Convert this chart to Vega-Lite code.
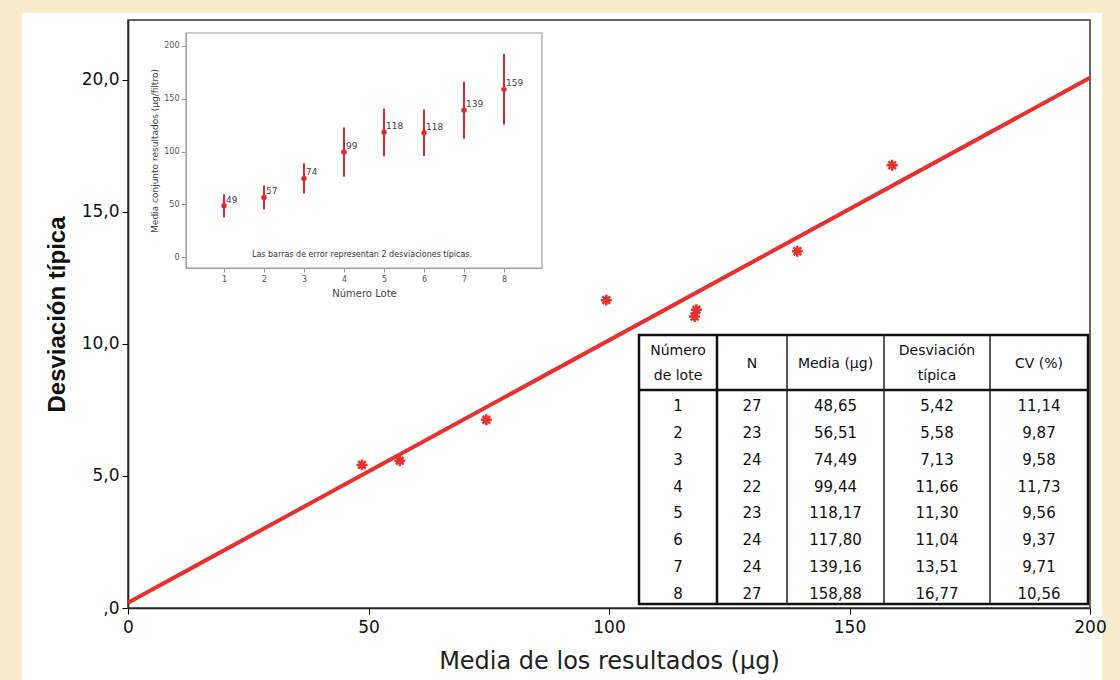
{
  "$schema": "https://vega.github.io/schema/vega-lite/v6.json",
  "width": 1080,
  "height": 667,
  "autosize": {"type": "none"},
  "padding": {"left": 22, "top": 13, "right": 18, "bottom": 0},
  "background": "#f8ecca",
  "config": {
    "view": {"fill": "white", "stroke": null},
    "axis": {"grid": false},
    "locale": {"number": {"decimal": ",", "thousands": ".", "grouping": [3], "currency": ["", " €"]}}
  },
  "datasets": {
    "lotes": [
      {"lote": 1, "n": 27, "media": 48.65, "sd": 5.42, "cv": 11.14, "lo": 37.81, "hi": 59.49},
      {"lote": 2, "n": 23, "media": 56.51, "sd": 5.58, "cv": 9.87, "lo": 45.35, "hi": 67.67},
      {"lote": 3, "n": 24, "media": 74.49, "sd": 7.13, "cv": 9.58, "lo": 60.23, "hi": 88.75},
      {"lote": 4, "n": 22, "media": 99.44, "sd": 11.66, "cv": 11.73, "lo": 76.12, "hi": 122.76},
      {"lote": 5, "n": 23, "media": 118.17, "sd": 11.30, "cv": 9.56, "lo": 95.57, "hi": 140.77},
      {"lote": 6, "n": 24, "media": 117.80, "sd": 11.04, "cv": 9.37, "lo": 95.72, "hi": 139.88},
      {"lote": 7, "n": 24, "media": 139.16, "sd": 13.51, "cv": 9.71, "lo": 112.14, "hi": 166.18},
      {"lote": 8, "n": 27, "media": 158.88, "sd": 16.77, "cv": 10.56, "lo": 125.34, "hi": 192.42}
    ],
    "ajuste": [{"media": 0, "sd": 0.2}, {"media": 200, "sd": 20.08}],
    "columnas": [
      {"col": 1, "titulo": "Número\nde lote"},
      {"col": 2, "titulo": "N"},
      {"col": 3, "titulo": "Media (µg)"},
      {"col": 4, "titulo": "Desviación\ntípica"},
      {"col": 5, "titulo": "CV (%)"}
    ],
    "separadores": [{"borde": 1.5}, {"borde": 2.5}, {"borde": 3.5}, {"borde": 4.5}]
  },
  "layer": [
    {
      "layer": [
        {
          "data": {"values": [{}]},
          "mark": {"type": "rect", "filled": false, "stroke": "#333333", "strokeWidth": 1.5},
          "encoding": {
            "x": {"datum": 0, "type": "quantitative",
              "scale": {"domain": [0, 200], "range": [106, 1068], "nice": false, "zero": false},
              "axis": {"orient": "bottom", "offset": -72, "values": [0, 50, 100, 150, 200], "format": "d",
                "labelFont": "DejaVu Sans", "labelFontSize": 17, "labelColor": "#111111", "labelPadding": 5,
                "labelFlush": false, "labelOverlap": false,
                "tickSize": 6, "tickColor": "#000000", "domainColor": "#000000", "domainWidth": 1.5,
                "title": "Media de los resultados (µg)", "titleFont": "DejaVu Sans", "titleFontSize": 24,
                "titleFontWeight": "normal", "titleColor": "#222222", "titlePadding": 14}},
            "x2": {"datum": 200},
            "y": {"datum": 0, "type": "quantitative",
              "scale": {"domain": [0, 22.27], "range": [595, 7], "nice": false, "zero": false},
              "axis": {"orient": "left", "offset": -106, "values": [0, 5, 10, 15, 20],
                "labelExpr": "datum.value === 0 ? ',0' : replace(format(datum.value, '.1f'), '.', ',')",
                "labelFont": "DejaVu Sans", "labelFontSize": 17, "labelColor": "#111111", "labelPadding": 3,
                "tickSize": 6, "tickColor": "#000000", "domainColor": "#000000", "domainWidth": 1.5,
                "title": "Desviación típica", "titleFont": "Liberation Sans", "titleFontSize": 24,
                "titleFontWeight": "bold", "titleColor": "#111111", "titlePadding": 12}},
            "y2": {"datum": 22.27}
          }
        },
        {
          "data": {"name": "ajuste"},
          "mark": {"type": "line", "color": "#e8302e", "strokeWidth": 4},
          "encoding": {
            "x": {"field": "media", "type": "quantitative"},
            "y": {"field": "sd", "type": "quantitative"}
          }
        },
        {
          "data": {"name": "lotes"},
          "mark": {"type": "point", "filled": false, "stroke": "#e8302e", "strokeWidth": 2.5, "opacity": 1, "size": 120,
            "shape": "M0,-1L0,1M-1,0L1,0M-0.7,-0.7L0.7,0.7M-0.7,0.7L0.7,-0.7"},
          "encoding": {
            "x": {"field": "media", "type": "quantitative"},
            "y": {"field": "sd", "type": "quantitative"}
          }
        }
      ]
    },
    {
      "layer": [
        {
          "data": {"values": [{}]},
          "mark": {"type": "rect", "fill": "white", "stroke": "#a0a0a0", "strokeWidth": 1.2},
          "encoding": {
            "x": {"datum": 0.05, "type": "quantitative",
              "scale": {"domain": [0.05, 8.95], "range": [164, 520], "nice": false, "zero": false},
              "axis": {"orient": "bottom", "offset": -412, "values": [1, 2, 3, 4, 5, 6, 7, 8], "format": "d",
                "labelFont": "DejaVu Sans", "labelFontSize": 8, "labelColor": "#555555", "labelPadding": 3,
                "labelFlush": false,
                "tickSize": 4, "tickColor": "#999999", "domainColor": "#a0a0a0", "zindex": 1,
                "title": "Número Lote", "titleFont": "DejaVu Sans", "titleFontSize": 10,
                "titleFontWeight": "normal", "titleColor": "#444444", "titlePadding": 5}},
            "x2": {"datum": 8.95},
            "y": {"datum": -10.4, "type": "quantitative",
              "scale": {"domain": [-10.4, 212.3], "range": [255, 20], "nice": false, "zero": false},
              "axis": {"orient": "left", "offset": -164, "values": [0, 50, 100, 150, 200], "format": "d",
                "labelFont": "DejaVu Sans", "labelFontSize": 8, "labelColor": "#555555", "labelPadding": 2,
                "tickSize": 5, "tickColor": "#999999", "domainColor": "#a0a0a0", "zindex": 1,
                "title": "Media conjunto resultados (µg/filtro)", "titleFont": "DejaVu Sans", "titleFontSize": 9,
                "titleFontWeight": "normal", "titleColor": "#444444", "titlePadding": 4}},
            "y2": {"datum": 212.3}
          }
        },
        {
          "data": {"name": "lotes"},
          "mark": {"type": "rule", "color": "#dd2a30", "strokeWidth": 2},
          "encoding": {
            "x": {"field": "lote", "type": "quantitative"},
            "y": {"field": "lo", "type": "quantitative"},
            "y2": {"field": "hi"}
          }
        },
        {
          "data": {"name": "lotes"},
          "mark": {"type": "circle", "color": "#dd2a30", "size": 30, "opacity": 1},
          "encoding": {
            "x": {"field": "lote", "type": "quantitative"},
            "y": {"field": "media", "type": "quantitative"}
          }
        },
        {
          "data": {"name": "lotes"},
          "mark": {"type": "text", "align": "left", "baseline": "bottom", "dx": 2, "dy": -1, "font": "DejaVu Sans", "fontSize": 9, "color": "#444444"},
          "encoding": {
            "x": {"field": "lote", "type": "quantitative"},
            "y": {"field": "media", "type": "quantitative"},
            "text": {"field": "media", "type": "quantitative", "format": ".0f"}
          }
        },
        {
          "data": {"values": [{}]},
          "mark": {"type": "text", "align": "center", "baseline": "middle", "font": "DejaVu Sans", "fontSize": 8, "color": "#333333"},
          "encoding": {
            "x": {"datum": 4.45, "type": "quantitative"},
            "y": {"datum": 2, "type": "quantitative"},
            "text": {"value": "Las barras de error representan 2 desviaciones típicas."}
          }
        }
      ]
    },
    {
      "layer": [
        {
          "data": {"values": [{}]},
          "mark": {"type": "rect", "fill": "white", "stroke": "#111111", "strokeWidth": 2.5},
          "encoding": {
            "x": {"datum": 0.5, "type": "quantitative",
              "scale": {"domain": [0.5, 1.5, 2.5, 3.5, 4.5, 5.5], "range": [617, 695, 765, 862, 968, 1066], "nice": false, "zero": false},
              "axis": null},
            "x2": {"datum": 5.5},
            "y": {"datum": -0.5, "type": "quantitative",
              "scale": {"domain": [-0.5, 0.5, 8.5], "range": [322, 377, 591], "nice": false, "zero": false},
              "axis": null},
            "y2": {"datum": 8.5}
          }
        },
        {
          "data": {"values": [{}]},
          "mark": {"type": "rule", "color": "#111111", "strokeWidth": 2.5},
          "encoding": {
            "x": {"datum": 0.5, "type": "quantitative"},
            "x2": {"datum": 5.5},
            "y": {"datum": 0.5, "type": "quantitative"}
          }
        },
        {
          "data": {"name": "separadores"},
          "transform": [{"filter": "datum.borde == 1.5"}],
          "mark": {"type": "rule", "color": "#111111", "strokeWidth": 2.5},
          "encoding": {
            "x": {"field": "borde", "type": "quantitative"},
            "y": {"datum": -0.5, "type": "quantitative"},
            "y2": {"datum": 8.5}
          }
        },
        {
          "data": {"name": "separadores"},
          "transform": [{"filter": "datum.borde > 1.5"}],
          "mark": {"type": "rule", "color": "#222222", "strokeWidth": 1.5},
          "encoding": {
            "x": {"field": "borde", "type": "quantitative"},
            "y": {"datum": -0.5, "type": "quantitative"},
            "y2": {"datum": 8.5}
          }
        },
        {
          "data": {"name": "columnas"},
          "transform": [{"filter": "indexof(datum.titulo, '\\n') >= 0"}],
          "mark": {"type": "text", "align": "center", "baseline": "middle", "lineBreak": "\n", "lineHeight": 25, "dy": -12, "font": "DejaVu Sans", "fontSize": 14, "color": "#111111"},
          "encoding": {
            "x": {"field": "col", "type": "quantitative"},
            "y": {"datum": 0, "type": "quantitative"},
            "text": {"field": "titulo"}
          }
        },
        {
          "data": {"name": "columnas"},
          "transform": [{"filter": "indexof(datum.titulo, '\\n') < 0"}],
          "mark": {"type": "text", "align": "center", "baseline": "middle", "dy": 1, "font": "DejaVu Sans", "fontSize": 14, "color": "#111111"},
          "encoding": {
            "x": {"field": "col", "type": "quantitative"},
            "y": {"datum": 0, "type": "quantitative"},
            "text": {"field": "titulo"}
          }
        },
        {
          "data": {"name": "lotes"},
          "mark": {"type": "text", "align": "center", "baseline": "middle", "dy": 3, "font": "DejaVu Sans", "fontSize": 15, "color": "#111111"},
          "encoding": {
            "x": {"datum": 1, "type": "quantitative"},
            "y": {"field": "lote", "type": "quantitative"},
            "text": {"field": "lote", "type": "quantitative", "format": "d"}
          }
        },
        {
          "data": {"name": "lotes"},
          "mark": {"type": "text", "align": "center", "baseline": "middle", "dy": 3, "font": "DejaVu Sans", "fontSize": 15, "color": "#111111"},
          "encoding": {
            "x": {"datum": 2, "type": "quantitative"},
            "y": {"field": "lote", "type": "quantitative"},
            "text": {"field": "n", "type": "quantitative", "format": "d"}
          }
        },
        {
          "data": {"name": "lotes"},
          "mark": {"type": "text", "align": "center", "baseline": "middle", "dy": 3, "font": "DejaVu Sans", "fontSize": 15, "color": "#111111"},
          "encoding": {
            "x": {"datum": 3, "type": "quantitative"},
            "y": {"field": "lote", "type": "quantitative"},
            "text": {"field": "media", "type": "quantitative", "format": ".2f"}
          }
        },
        {
          "data": {"name": "lotes"},
          "mark": {"type": "text", "align": "center", "baseline": "middle", "dy": 3, "font": "DejaVu Sans", "fontSize": 15, "color": "#111111"},
          "encoding": {
            "x": {"datum": 4, "type": "quantitative"},
            "y": {"field": "lote", "type": "quantitative"},
            "text": {"field": "sd", "type": "quantitative", "format": ".2f"}
          }
        },
        {
          "data": {"name": "lotes"},
          "mark": {"type": "text", "align": "center", "baseline": "middle", "dy": 3, "font": "DejaVu Sans", "fontSize": 15, "color": "#111111"},
          "encoding": {
            "x": {"datum": 5, "type": "quantitative"},
            "y": {"field": "lote", "type": "quantitative"},
            "text": {"field": "cv", "type": "quantitative", "format": ".2f"}
          }
        }
      ]
    }
  ],
  "resolve": {
    "scale": {"x": "independent", "y": "independent"},
    "axis": {"x": "independent", "y": "independent"}
  }
}
